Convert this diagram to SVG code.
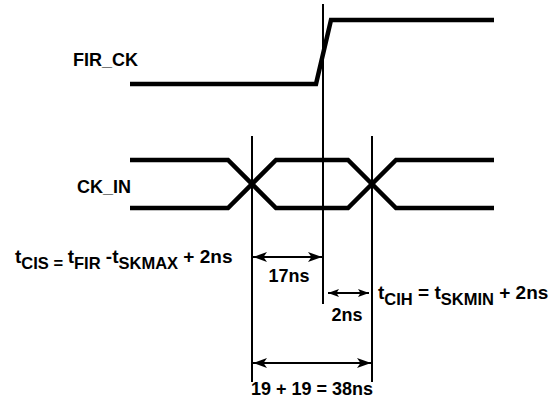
<svg xmlns="http://www.w3.org/2000/svg" width="558" height="398" viewBox="0 0 558 398">
<style>
.sig{fill:none;stroke:#000;stroke-width:4.5;stroke-linejoin:miter}
.ref{stroke:#000;stroke-width:2;fill:none}
.dim{stroke:#000;stroke-width:2;fill:none}
text{font-family:"Liberation Sans",Arial,sans-serif;font-weight:bold;fill:#000}
.lbl{font-size:18px}
.fm{font-size:19px}
.sub{font-size:16.5px}
</style>
<defs>
<marker id="ah" viewBox="0 0 14 10" refX="14" refY="5" markerWidth="14" markerHeight="10" markerUnits="userSpaceOnUse" orient="auto-start-reverse">
<path d="M0,0 L14,5 L0,10 L3.5,5 Z" fill="#000"/>
</marker>
<marker id="ahs" viewBox="0 0 11 8" refX="11" refY="4" markerWidth="11" markerHeight="8" markerUnits="userSpaceOnUse" orient="auto-start-reverse">
<path d="M0,0 L11,4 L0,8 L2.5,4 Z" fill="#000"/>
</marker>
</defs>
<g id="fir_ck">
<path class="sig" d="M130,84 H316 L331,20 H494"/>
<text class="lbl" x="73" y="66">FIR_CK</text>
</g>
<g id="ck_in">
<path class="sig" d="M130,160 H228 L276,208 H348 L396,160 H494"/>
<path class="sig" d="M130,208 H228 L276,160 H348 L396,208 H494"/>
<text class="lbl" x="77" y="193">CK_IN</text>
</g>
<g id="connectors">
<line class="ref" x1="252" y1="136" x2="252" y2="382"/>
<line class="ref" x1="372" y1="136" x2="372" y2="382"/>
<line class="ref" x1="323" y1="4" x2="323" y2="304"/>
<line class="dim" x1="253" y1="257" x2="322" y2="257" marker-start="url(#ah)" marker-end="url(#ah)"/>
<line class="dim" x1="328" y1="293" x2="369" y2="293" marker-start="url(#ahs)" marker-end="url(#ahs)"/>
<line class="dim" x1="253" y1="363" x2="371" y2="363" marker-start="url(#ah)" marker-end="url(#ah)"/>
</g>
<g id="label_17ns"><text class="lbl" x="289" y="282" text-anchor="middle">17ns</text></g>
<g id="label_2ns"><text class="lbl" x="347" y="321" text-anchor="middle">2ns</text></g>
<g id="label_38ns"><text class="lbl" x="312" y="395" text-anchor="middle">19 + 19 = 38ns</text></g>
<g id="formula_cis">
<text class="fm" x="15" y="263">t<tspan class="sub" dy="6">CIS = </tspan><tspan dy="-6">t</tspan><tspan class="sub" dy="6">FIR</tspan><tspan dy="-6"> -t</tspan><tspan class="sub" dy="6">SKMAX</tspan><tspan dy="-6"> + 2ns</tspan></text>
</g>
<g id="formula_cih">
<text class="fm" x="378" y="299">t<tspan class="sub" dy="6">CIH</tspan><tspan dy="-6"> = t</tspan><tspan class="sub" dy="6">SKMIN</tspan><tspan dy="-6"> + 2ns</tspan></text>
</g>
</svg>
